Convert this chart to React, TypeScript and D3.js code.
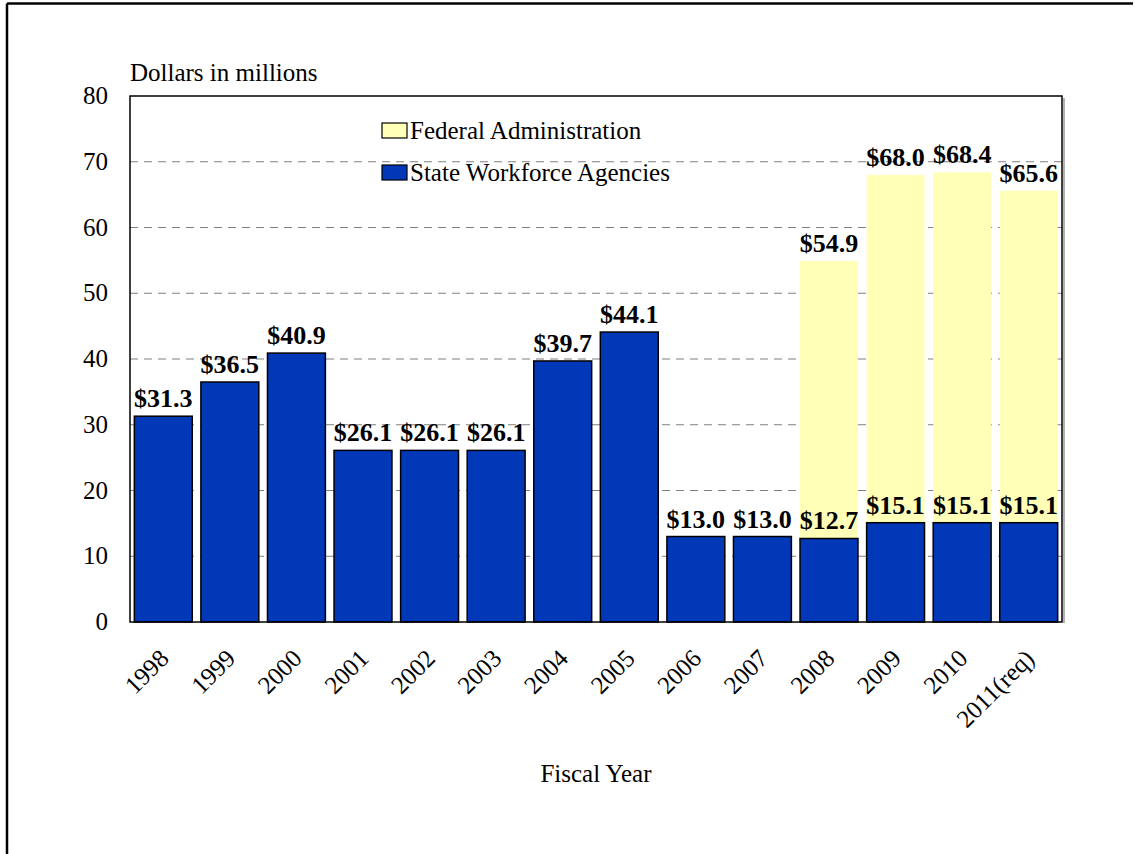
import * as d3 from 'd3';
import React from 'react';

const years = ['1998', '1999', '2000', '2001', '2002', '2003', '2004', '2005', '2006', '2007', '2008', '2009', '2010', '2011(req)'];
const stateAgencies = [31.3, 36.5, 40.9, 26.1, 26.1, 26.1, 39.7, 44.1, 13.0, 13.0, 12.7, 15.1, 15.1, 15.1];
// federal part only, totals are 54.9, 68.0, 68.4, 65.6
const federalAdmin = [0, 0, 0, 0, 0, 0, 0, 0, 0, 0, 42.2, 52.9, 53.3, 50.5];
const yTicks = [0, 10, 20, 30, 40, 50, 60, 70, 80];

const BLUE = '#0038B8';
const YELLOW = '#FFFFB7';
const FONT = '"Liberation Serif", "Times New Roman", serif';

const App = () => {
  const width = 1135;
  const height = 854;
  const m = { left: 130, right: 1062, top: 96, bottom: 622 };

  const x = d3.scaleBand().domain(years).range([m.left, m.right]).paddingInner(0.13).paddingOuter(0.065);
  const y = d3.scaleLinear().domain([0, 80]).range([m.bottom, m.top]);

  const rows = years.map((yr, i) => ({ year: yr, state: stateAgencies[i], federal: federalAdmin[i] }));
  const stacked = d3.stack<any>().keys(['state', 'federal'])(rows);
  const fmt = (v: number) => '$' + v.toFixed(1);

  return (
    <svg width={width} height={height} style={{ position: 'absolute', left: 0, top: 0, background: '#fff' }} fontFamily={FONT}>
      {/* outer frame */}
      <line x1={7} y1={854} x2={7} y2={3.5} stroke="#000" strokeWidth={2.5} />
      <line x1={7} y1={3.5} x2={1133} y2={3.5} stroke="#000" strokeWidth={2.5} />

      {/* grid */}
      {yTicks.filter((t) => t > 0 && t < 80).map((t) => (
        <line key={t} x1={m.left} x2={m.right} y1={y(t)} y2={y(t)} stroke="#808080" strokeWidth={1.2} strokeDasharray="8,6" />
      ))}

      {/* federal segments */}
      {stacked[1].map((d, i) =>
        d[1] - d[0] > 0 ? (
          <rect key={'f' + i} x={x(years[i])} width={x.bandwidth()} y={y(d[1])} height={y(d[0]) - y(d[1])} fill={YELLOW} />
        ) : null
      )}
      {/* state segments */}
      {stacked[0].map((d, i) => (
        <rect key={'s' + i} x={x(years[i])} width={x.bandwidth()} y={y(d[1])} height={y(d[0]) - y(d[1])} fill={BLUE} stroke="#000" strokeWidth={1.5} />
      ))}

      {/* value labels */}
      {stacked[0].map((d, i) => (
        <text key={'ls' + i} x={x(years[i])! + x.bandwidth() / 2} y={y(d[1]) - 9} textAnchor="middle" fontSize={26} fontWeight="bold">
          {fmt(stateAgencies[i])}
        </text>
      ))}
      {stacked[1].map((d, i) =>
        d[1] - d[0] > 0 ? (
          <text key={'lf' + i} x={x(years[i])! + x.bandwidth() / 2} y={y(d[1]) - 9} textAnchor="middle" fontSize={26} fontWeight="bold">
            {fmt(d[1])}
          </text>
        ) : null
      )}

      {/* plot frame */}
      <line x1={m.right + 2} y1={m.top + 2} x2={m.right + 2} y2={m.bottom + 1} stroke="#999" strokeWidth={1.5} />
      <rect x={m.left} y={m.top} width={m.right - m.left} height={m.bottom - m.top} fill="none" stroke="#000" strokeWidth={1.5} />

      {/* y axis labels */}
      {yTicks.map((t) => (
        <text key={'y' + t} x={108} y={y(t) + 8} textAnchor="end" fontSize={25}>
          {t}
        </text>
      ))}
      <text x={130} y={81} fontSize={25}>Dollars in millions</text>

      {/* x axis labels */}
      {years.map((yr) => {
        const cx = x(yr)! + x.bandwidth() / 2 + 7;
        const cy = m.bottom + 38;
        return (
          <text key={yr} x={cx} y={cy} textAnchor="end" fontSize={25} transform={`rotate(-45, ${cx}, ${cy})`}>
            {yr}
          </text>
        );
      })}
      <text x={596} y={782} textAnchor="middle" fontSize={25}>Fiscal Year</text>

      {/* legend */}
      <rect x={382} y={123} width={25} height={15} fill={YELLOW} stroke="#000" strokeWidth={1.2} />
      <text x={410} y={139} fontSize={25}>Federal Administration</text>
      <rect x={382} y={165} width={25} height={15} fill={BLUE} stroke="#000" strokeWidth={1.2} />
      <text x={410} y={181} fontSize={25}>State Workforce Agencies</text>
    </svg>
  );
};

export default App;
